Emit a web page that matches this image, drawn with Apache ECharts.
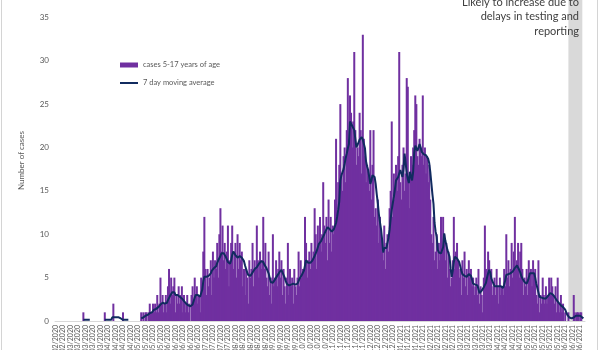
<!DOCTYPE html>
<html><head><meta charset="utf-8">
<script src="https://cdn.jsdelivr.net/npm/echarts@6/dist/echarts.min.js"></script>
<style>html,body{margin:0;padding:0;background:#fff}#c{width:600px;height:350px}</style>
</head><body><div id="c"></div>
<script>
const startDate = '2020-02-17';
const dayCount = 495;
const seriesNames = ['cases 5-17 years of age', '7 day moving average'];
const noteLines = ['Likely to increase due to', 'delays in testing and', 'reporting'];
const yAxisTitle = 'Number of cases';
const delayFirstDay = 482;
const delayLastDay = 494;

const cases = [
0,0,0,0,0,0,0,0,0,0,
0,0,0,0,0,0,0,0,0,0,
0,0,0,0,0,0,1,0,0,0,
0,0,0,0,0,0,0,0,0,0,
0,0,0,0,0,0,1,0,0,0,
0,0,0,0,2,0,0,0,0,0,
0,0,0,1,0,0,0,0,0,0,
0,0,0,0,0,0,0,0,0,0,
1,0,1,0,1,1,0,1,2,1,
1,2,1,2,1,3,1,2,5,2,
3,1,2,3,1,4,6,2,5,3,
4,5,1,3,2,4,2,3,4,1,
3,1,2,3,1,2,0,3,4,2,
5,3,4,2,3,1,5,4,8,12,
6,3,6,4,5,7,3,8,5,7,
6,9,5,10,13,8,11,7,9,6,
8,11,4,7,9,11,6,8,9,5,
10,6,9,7,8,4,6,3,6,5,
2,7,5,6,9,4,7,6,11,7,
5,8,6,7,12,6,9,5,4,8,
3,5,2,10,4,5,7,4,6,8,
5,7,3,6,4,2,5,9,3,6,
4,5,2,6,4,3,5,8,4,7,
5,6,6,12,9,5,7,8,6,9,
7,8,13,10,6,11,9,12,8,10,
16,11,9,12,7,14,9,12,8,11,
10,14,21,12,16,18,25,17,15,19,
20,16,22,28,21,26,24,20,23,31,
22,18,20,19,24,22,17,33,21,19,
16,18,17,15,22,14,18,22,12,13,
11,14,9,12,10,8,7,11,6,9,
10,8,13,15,23,12,17,14,18,15,
19,31,16,14,18,20,15,17,28,27,
16,13,19,18,20,22,26,25,19,18,
21,20,19,26,18,20,17,19,16,18,
14,10,9,12,7,8,10,6,9,7,
12,8,12,10,7,9,5,8,6,4,
5,7,12,6,8,9,7,5,6,3,
7,5,8,4,6,3,7,5,6,4,
5,3,4,5,3,6,2,4,3,1,
5,11,6,5,8,7,5,6,3,4,
5,3,6,4,2,5,3,4,3,6,
4,10,5,7,4,6,9,5,8,12,
6,7,9,5,8,9,6,3,5,4,
6,3,7,5,6,4,7,5,6,3,
2,7,1,3,2,5,3,2,4,2,
3,5,3,5,4,3,2,4,1,5,
2,1,3,1,2,0,1,0,0,1,
0,0,0,0,3,1,0,1,1,0,
1,1,0,0,0
];

const movingAvg = [
null,null,null,null,null,null,null,null,null,null,
null,null,null,null,null,null,null,null,null,null,
null,null,null,null,null,null,0.14,0.14,0.14,0.14,
0.14,0.14,0.14,null,null,null,null,null,null,null,
null,null,null,null,null,null,0.14,0.14,0.14,0.14,
0.14,0.14,0.14,0.43,0.43,0.43,0.43,0.43,0.43,0.43,
0.29,0.29,0.14,0.14,0.14,0.14,0.14,0.14,0.14,null,
null,null,null,null,null,null,null,null,null,null,
0.3,0.3,0.4,0.4,0.6,0.6,0.7,0.7,0.9,1.0,
1.0,1.1,1.3,1.3,1.4,1.4,1.6,1.7,1.9,2.0,
2.1,2.1,2.0,2.0,2.1,2.4,2.6,2.9,3.0,3.3,
3.4,3.3,3.0,2.9,3.0,2.9,2.8,2.7,2.6,2.4,
2.3,2.1,2.0,1.9,1.8,1.7,1.7,1.6,1.9,2.3,
2.7,3.0,3.0,3.0,2.9,2.8,2.8,3.6,4.6,5.1,
5.0,5.1,5.3,5.2,5.3,5.5,5.8,6.0,6.1,6.1,
6.3,6.7,7.0,7.2,7.5,7.8,7.8,7.8,7.6,7.4,
7.1,6.8,6.6,6.6,7.0,7.6,8.0,7.8,7.6,7.4,
7.3,7.4,7.5,7.3,7.3,7.3,6.9,6.4,6.0,5.6,
5.3,5.1,5.2,5.4,5.6,5.8,6.0,6.1,6.2,6.4,
6.6,6.8,6.9,7.0,6.8,6.5,6.3,6.1,5.9,5.5,
5.0,4.5,4.3,4.4,4.6,4.8,5.0,5.2,5.4,5.6,
5.8,5.9,5.7,5.3,5.0,4.6,4.3,4.1,4.1,4.2,
4.2,4.3,4.3,4.3,4.2,4.3,4.3,4.6,4.9,5.1,
5.3,5.3,5.8,6.4,7.0,6.9,6.7,6.6,6.7,6.9,
7.0,7.2,7.5,7.8,8.1,8.5,8.9,8.9,9.2,9.5,
9.7,10.0,10.3,10.5,10.8,10.9,10.6,10.4,10.3,10.5,
10.6,10.7,11.3,12.0,12.8,13.8,16.2,16.8,17.0,17.5,
18.1,18.8,19.3,19.9,20.4,23.0,23.1,22.5,22.3,22.0,
21.0,20.0,19.9,20.6,20.9,21.1,21.2,20.9,20.4,19.9,
18.4,17.8,17.4,16.6,15.8,16.2,16.8,17.0,16.6,15.8,
14.6,13.6,12.3,11.4,10.6,9.4,7.9,8.4,8.6,8.4,
8.2,9.6,10.5,11.8,12.8,13.6,14.3,15.2,16.2,16.4,
16.6,17.0,17.4,17.2,16.6,17.6,19.3,18.2,17.0,16.4,
15.9,17.2,17.2,16.2,17.2,19.4,20.2,20.3,19.6,19.6,
20.4,20.0,19.5,19.3,19.2,19.1,19.1,19.1,18.7,18.2,
17.2,15.9,14.6,13.5,11.3,10.3,9.7,8.2,7.9,7.8,
7.8,7.8,8.5,10.1,9.3,9.4,8.2,7.8,7.4,6.0,
5.1,5.8,6.8,7.4,7.3,7.2,7.2,6.8,6.3,5.8,
5.4,5.3,5.2,5.1,5.1,5.2,5.4,5.5,5.2,4.8,
4.3,4.2,4.2,4.1,4.1,3.7,3.2,3.3,3.5,3.7,
3.9,4.0,4.4,5.0,5.5,5.9,5.6,4.9,4.6,4.3,
4.0,4.0,4.0,4.0,4.0,4.0,4.0,3.9,3.8,4.2,
4.7,5.3,5.3,5.4,5.5,5.5,5.6,5.7,5.9,6.1,
6.3,6.4,6.2,5.9,5.6,5.2,4.9,4.7,4.5,4.3,
4.3,4.6,5.0,5.5,5.5,5.5,5.5,5.5,5.0,4.3,
3.8,3.3,2.8,2.8,2.7,2.6,2.6,2.6,2.6,2.7,
2.9,3.1,3.2,3.2,3.1,3.0,2.8,2.6,2.4,2.2,
2.1,2.0,1.8,1.7,1.6,1.4,1.3,1.0,0.7,0.5,
0.4,0.3,0.3,0.3,0.4,0.6,0.6,0.6,0.6,0.6,
0.6,0.6,0.4,0.3,null
];

// category labels (one per day)
const days = [];
(function () {
  const d0 = new Date(startDate + 'T00:00:00Z');
  for (let i = 0; i < dayCount; i++) {
    const d = new Date(d0.getTime() + i * 86400000);
    const dd = String(d.getUTCDate()).padStart(2, '0');
    const mm = String(d.getUTCMonth() + 1).padStart(2, '0');
    days.push(dd + '/' + mm + '/' + d.getUTCFullYear());
  }
})();

const FONT = 'Lato, "Open Sans", sans-serif';
const chart = echarts.init(document.getElementById('c'), null, {renderer: 'canvas'});

const borderGraphics = [
  {type: 'line', shape: {x1: 1.5, y1: 0, x2: 1.5, y2: 350}, style: {stroke: '#d4d4d4', lineWidth: 1}, silent: true},
  {type: 'line', shape: {x1: 597.5, y1: 0, x2: 597.5, y2: 350}, style: {stroke: '#d4d4d4', lineWidth: 1}, silent: true}
];

chart.setOption({
  animation: false,
  backgroundColor: '#ffffff',
  textStyle: {fontFamily: FONT},
  grid: {left: 55, right: 15, top: 0, bottom: 29, containLabel: false, outerBoundsMode: 'none'},
  legend: [
    {data: [{name: seriesNames[0], icon: 'rect'}], left: 115, top: 56, itemWidth: 18, itemHeight: 5,
     textStyle: {fontSize: 7.5, color: '#595959', fontFamily: FONT}, selectedMode: false},
    {data: [{name: seriesNames[1], icon: 'rect'}], left: 115, top: 74, itemWidth: 18, itemHeight: 2,
     textStyle: {fontSize: 7.5, color: '#595959', fontFamily: FONT}, selectedMode: false}
  ],
  xAxis: {
    type: 'category', data: days, boundaryGap: true,
    axisLine: {lineStyle: {color: '#d9d9d9', width: 1}},
    axisTick: {show: false},
    axisLabel: {interval: 6, rotate: 90, fontSize: 7, color: '#595959', margin: 4, fontFamily: FONT, hideOverlap: false}
  },
  yAxis: {
    type: 'value', min: 0, max: 37, interval: 5,
    axisLine: {show: false}, axisTick: {show: false}, splitLine: {show: false},
    axisLabel: {showMaxLabel: false, fontSize: 8, color: '#595959', margin: 6, fontFamily: FONT},
    name: yAxisTitle, nameLocation: 'middle', nameRotate: 90, nameGap: 30,
    nameTextStyle: {fontSize: 8, color: '#595959', fontFamily: FONT}
  },
  series: [
    {
      type: 'bar', name: seriesNames[0], data: cases, barWidth: 2,
      itemStyle: {color: '#7030A0'}, z: 2,
      markArea: {silent: true, itemStyle: {color: '#d9d9d9'},
        data: [[{xAxis: days[delayFirstDay]}, {xAxis: days[delayLastDay]}]]}
    },
    {
      type: 'line', name: seriesNames[1], data: movingAvg, symbol: 'none', connectNulls: false,
      lineStyle: {color: '#112B5F', width: 2}, itemStyle: {color: '#112B5F'}, z: 3
    }
  ],
  graphic: borderGraphics.concat([
    {type: 'text', x: 579, y: -5, z: 10,
     style: {text: noteLines.join('\n'), align: 'right', verticalAlign: 'top', font: '11px ' + FONT, fill: '#404040', lineHeight: 14.5}}
  ])
});
</script>
</body></html>
